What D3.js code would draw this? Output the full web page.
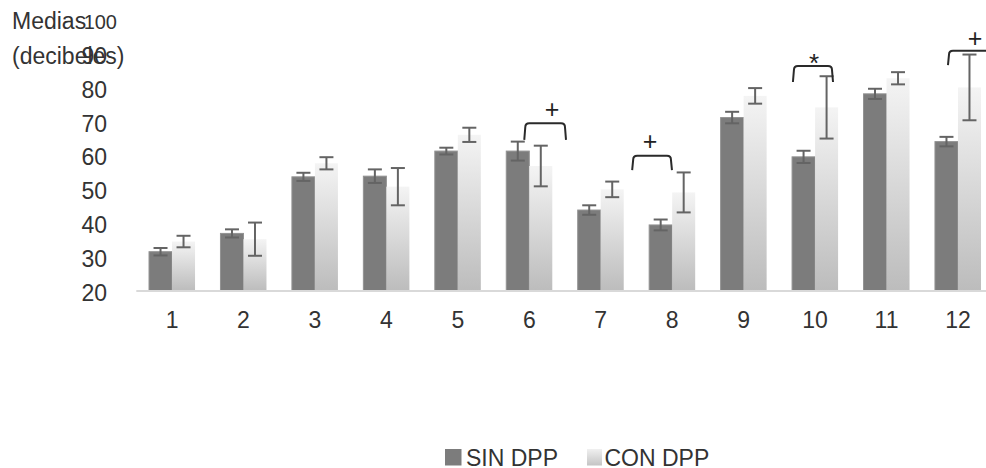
<!DOCTYPE html>
<html><head><meta charset="utf-8">
<script src="https://cdn.jsdelivr.net/npm/d3@7"></script>
<style>
html,body{margin:0;padding:0;background:#fff;overflow:hidden}
svg{display:block;font-family:"Liberation Sans",Arial,sans-serif}
</style></head>
<body><svg id="chart" width="986" height="468"></svg>
<script>
const categories = ["1","2","3","4","5","6","7","8","9","10","11","12"];
const seriesNames = ["SIN DPP","CON DPP"];
const sinDPP    = [31.6, 37.0, 53.7, 53.9, 61.3, 61.3, 43.9, 39.5, 71.2, 59.6, 78.2, 64.1];
const sinDPPErr = [1.1, 1.2, 1.2, 2.0, 1.0, 2.8, 1.4, 1.6, 1.7, 1.8, 1.5, 1.4];
const conDPP    = [34.6, 35.3, 57.7, 50.8, 66.1, 56.9, 50.0, 49.1, 77.6, 74.2, 82.8, 80.1];
const conDPPErr = [1.7, 4.9, 1.8, 5.5, 2.1, 6.0, 2.3, 5.9, 2.3, 9.2, 1.8, 9.7];
const yTicks = [20, 30, 40, 50, 60, 70, 80, 90, 100];
const yLabelLines = ["Medias", "(decibeles)"];
// significance brackets: category, bracket top / leg bottom (value units), symbol
const sigCats    = ["6", "8", "10", "12"];
const sigTop     = [69.5, 59.9, 86.4, 90.9];
const sigBottom  = [64.6, 55.7, 81.7, 86.7];
const sigSymbols = ["+", "+", "*", "+"];
const sigSymbolY = [73.7, 64.3, 90.3, 94.7];

const svg = d3.select("#chart");
const W = 986, H = 468;
const ML = 136.3, MR = 993.7, Y0 = 291, Y1 = 20;

const x = d3.scaleBand().domain(categories).range([ML, MR]).paddingInner(0.356).paddingOuter(0.178);
const xs = d3.scaleBand().domain(seriesNames).range([0, x.bandwidth()]);
const y = d3.scaleLinear().domain([20, 100]).range([Y0, Y1]);

const defs = svg.append("defs");
const g1 = defs.append("linearGradient").attr("id","lightGrad").attr("x1",0).attr("y1",0).attr("x2",0).attr("y2",1);
g1.append("stop").attr("offset","0%").attr("stop-color","#f4f4f4");
g1.append("stop").attr("offset","100%").attr("stop-color","#bcbcbc");
const g2 = defs.append("linearGradient").attr("id","lightGradLeg").attr("x1",0).attr("y1",0).attr("x2",0).attr("y2",1);
g2.append("stop").attr("offset","0%").attr("stop-color","#f0f0f0");
g2.append("stop").attr("offset","100%").attr("stop-color","#c4c4c4");

const data = categories.map((c,i)=>({c, vals:[
  {s:seriesNames[0], v:sinDPP[i], e:sinDPPErr[i]},
  {s:seriesNames[1], v:conDPP[i], e:conDPPErr[i]}
]}));

// y axis labels
const yAxis = d3.axisLeft(y).tickValues(yTicks).tickSize(0).tickPadding(0);
const ya = svg.append("g").attr("transform","translate(107,2)").call(yAxis);
ya.select(".domain").remove();
ya.selectAll("text").attr("fill","#333").attr("font-family","'Liberation Sans',Arial,sans-serif")
  .attr("font-size", d => d === 100 ? 20 : 23)
  .attr("dx", d => d === 100 ? 10 : 0);

// y title
svg.append("text").attr("x",12).attr("y",29).attr("font-size",23).attr("fill","#333")
  .selectAll("tspan").data(yLabelLines).join("tspan")
  .attr("x",12).attr("dy",(d,i)=> i===0?0:35).text(d=>d);

// bars
const grp = svg.append("g").selectAll("g").data(data).join("g")
  .attr("transform", d=>`translate(${x(d.c)},0)`);
grp.selectAll("rect").data(d=>d.vals).join("rect")
  .attr("x", d=>xs(d.s)).attr("width", xs.bandwidth())
  .attr("y", d=>y(d.v)).attr("height", d=>y(20)-y(d.v))
  .attr("fill", d=> d.s===seriesNames[0] ? "#7c7c7c" : "url(#lightGrad)")
  .attr("stroke", d=> d.s===seriesNames[0] ? "#929292" : "none")
  .attr("stroke-width",1);

// error bars
const eb = grp.selectAll("g.err").data(d=>d.vals).join("g").attr("class","err")
  .attr("transform", d=>`translate(${xs(d.s)+xs.bandwidth()/2},0)`);
eb.append("line").attr("x1",0).attr("x2",0).attr("y1",d=>y(d.v+d.e)).attr("y2",d=>y(d.v-d.e))
  .attr("stroke","#646464").attr("stroke-width",2);
eb.selectAll("line.cap").data(d=>[d.v+d.e, d.v-d.e]).join("line").attr("class","cap")
  .attr("x1",-7).attr("x2",7).attr("y1",d=>y(d)).attr("y2",d=>y(d))
  .attr("stroke","#646464").attr("stroke-width",2);

// x axis
svg.append("line").attr("x1",ML).attr("x2",W).attr("y1",y(20)).attr("y2",y(20))
  .attr("stroke","#d9d9d9").attr("stroke-width",2);
const xAxis = d3.axisBottom(x).tickSize(0).tickPadding(0);
const xa = svg.append("g").attr("transform",`translate(0,${y(20)+28})`).call(xAxis);
xa.select(".domain").remove();
xa.selectAll("text").attr("font-size",23).attr("fill","#333").attr("dy","0.4em")
  .attr("font-family","'Liberation Sans',Arial,sans-serif");

// significance brackets
const step = x.step();
const sigOffL = [-0.056, -0.546, -0.296, -0.126];
const sigOffR = [0.50, -0.017, 0.237, 0.52];
const sigOffS = [0.32, -0.31, -0.015, 0.24];
sigCats.forEach((c,i)=>{
  const cx = x(c) + x.bandwidth()/2;
  const xl = cx + sigOffL[i]*step, xr = cx + sigOffR[i]*step;
  const yt = y(sigTop[i]), yb = y(sigBottom[i]);
  const r = 4;
  const p = d3.path();
  p.moveTo(xl-1, yb);
  p.lineTo(xl, yt + r);
  p.quadraticCurveTo(xl, yt, xl + r, yt);
  p.lineTo(xr - r, yt);
  p.quadraticCurveTo(xr, yt, xr, yt + r);
  p.lineTo(xr+1, yb);
  svg.append("path").attr("d", p.toString()).attr("fill","none")
    .attr("stroke","#2a2a2a").attr("stroke-width",2);
  svg.append("text").attr("x", cx + sigOffS[i]*step).attr("y", y(sigSymbolY[i]))
    .attr("text-anchor","middle").attr("dy", sigSymbols[i]==="*" ? "0.75em" : "0.35em")
    .attr("font-size", sigSymbols[i]==="*" ? 26 : 25).attr("fill","#222").text(sigSymbols[i]);
});

// legend
const leg = svg.append("g").attr("transform","translate(445,449)");
const legX = [0, 142];
seriesNames.forEach((s,i)=>{
  const gg = leg.append("g").attr("transform",`translate(${legX[i]},0)`);
  gg.append("rect").attr("width", i===0?16.5:15).attr("height",16.5)
    .attr("fill", i===0 ? "#7c7c7c" : "url(#lightGradLeg)");
  gg.append("text").attr("x", i===0?21:17.5).attr("y",16.5).attr("font-size",23).attr("fill","#333").text(s);
});
</script></body></html>
